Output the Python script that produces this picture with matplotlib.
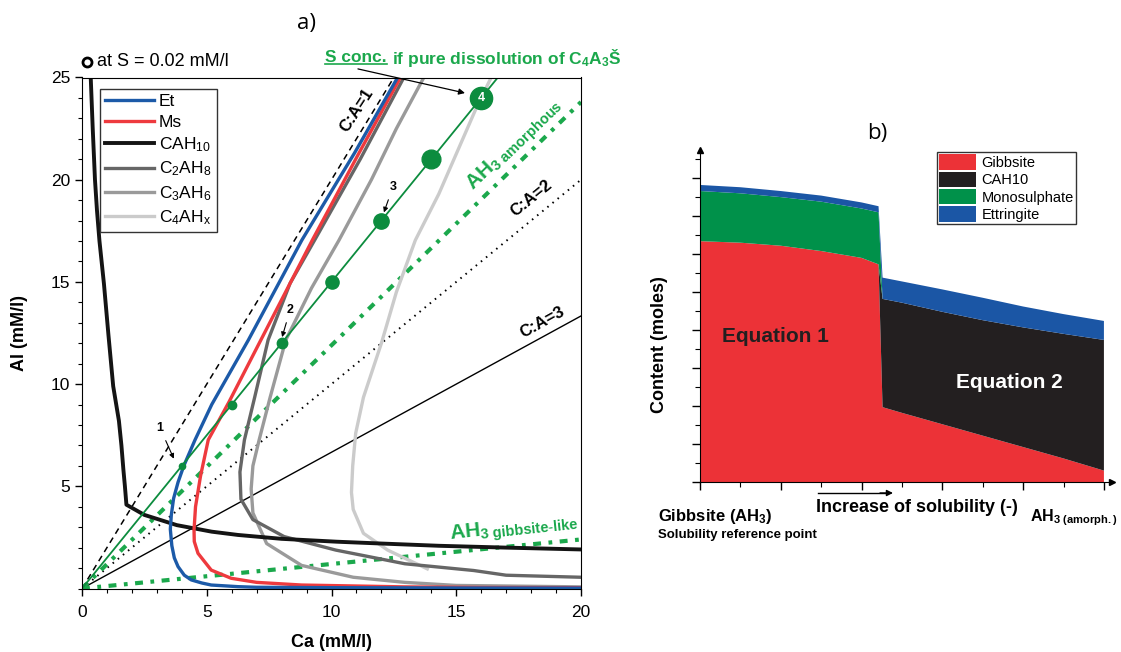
import numpy as np
import matplotlib.pyplot as plt
from matplotlib.ticker import MultipleLocator

plt.rcParams['font.family'] = ['Liberation Sans', 'DejaVu Sans']
plt.rcParams['mathtext.fontset'] = 'custom'
plt.rcParams['mathtext.rm'] = 'Liberation Sans'
plt.rcParams['mathtext.bf'] = 'Liberation Sans:bold'
plt.rcParams['mathtext.it'] = 'Liberation Sans:italic'

# ---------- panel a : Ca vs Al (mM/l) ----------
et_ca = [20.0, 15.0, 10.0, 7.0, 6.25, 5.18, 4.8, 4.38, 4.1, 3.85, 3.7, 3.6, 3.54, 3.58, 3.67, 3.85, 4.08, 4.53, 5.2, 6.67, 8.81, 10.92, 12.65]
et_al = [0.02, 0.025, 0.04, 0.06, 0.09, 0.17, 0.27, 0.42, 0.65, 1.07, 1.5, 2.1, 2.9, 3.6, 4.4, 5.2, 6.0, 7.27, 9.0, 12.16, 17.04, 21.3, 25.0]

ms_ca = [20.0, 16.0, 12.9, 8.8, 7.0, 5.98, 5.18, 4.65, 4.5, 4.49, 4.55, 4.75, 5.06, 5.88, 7.17, 8.34, 9.23, 11.1, 12.76]
ms_al = [0.04, 0.05, 0.08, 0.17, 0.3, 0.5, 0.9, 1.72, 2.3, 2.86, 4.0, 5.5, 7.27, 9.1, 12.16, 14.93, 17.04, 21.3, 25.0]

cah10_ca = [0.35, 0.43, 0.52, 0.6, 0.7, 0.88, 1.06, 1.25, 1.48, 1.58, 1.66, 1.72, 1.78, 2.5, 3.8, 5.2, 6.25, 8.0, 10.2, 12.0, 14.3, 17.0, 20.0]
cah10_al = [25.0, 22.5, 20.0, 18.5, 17.0, 14.9, 12.4, 9.9, 8.2, 7.0, 5.8, 5.0, 4.1, 3.6, 3.1, 2.78, 2.62, 2.43, 2.29, 2.2, 2.09, 2.0, 1.91]

c2ah8_ca = [20.0, 17.0, 15.7, 12.94, 10.17, 8.1, 6.85, 6.37, 6.33, 6.51, 6.92, 7.46, 8.34, 9.35, 11.15, 12.9]
c2ah8_al = [0.55, 0.65, 0.88, 1.21, 1.88, 2.54, 3.37, 4.37, 5.7, 7.27, 9.35, 12.16, 14.93, 17.1, 21.0, 25.0]

c3ah6_ca = [20.0, 15.0, 12.94, 10.87, 8.8, 7.4, 6.85, 6.78, 6.85, 7.1, 7.54, 8.17, 9.2, 10.3, 11.6, 12.6, 13.7]
c3ah6_al = [0.08, 0.15, 0.3, 0.55, 1.13, 2.2, 3.7, 4.87, 6.0, 7.27, 9.35, 12.16, 14.7, 17.04, 20.0, 22.5, 25.0]

c4ahx_ca = [13.84, 12.25, 11.28, 10.87, 10.8, 10.85, 10.97, 11.28, 12.0, 12.6, 13.36, 14.3, 15.8, 16.4]
c4ahx_al = [0.96, 1.88, 2.7, 3.87, 4.7, 6.0, 7.6, 9.35, 12.0, 14.5, 17.04, 19.3, 23.5, 25.0]

# C:A ratio lines (Al = slope * Ca)
ca_ratio_labels = ['C:A=1', 'C:A=2', 'C:A=3']
ca_ratio_slopes = [2.0, 1.0, 2.0 / 3.0]
ah3_amorph_slope = 1.19
ah3_gibbs_slope = 0.12

# S concentration points for pure dissolution of C4A3S
s_ca = [4, 6, 8, 10, 12, 14, 16]
s_al = [6, 9, 12, 15, 18, 21, 24]
s_labels = ['1', '', '2', '', '3', '', '4']

# ---------- panel b : phase contents ----------
b_x = [0, 1, 2, 3, 4, 4.42, 4.52, 5, 6, 7, 8, 9, 10]
gibbsite = [6.34, 6.30, 6.22, 6.08, 5.90, 5.73, 1.97, 1.82, 1.52, 1.22, 0.92, 0.62, 0.30]
cah10 = [0, 0, 0, 0, 0, 0, 2.85, 2.90, 2.96, 3.04, 3.15, 3.28, 3.44]
monosulphate = [1.32, 1.30, 1.28, 1.30, 1.30, 1.37, 0, 0, 0, 0, 0, 0, 0]
ettringite = [0.16, 0.16, 0.16, 0.16, 0.16, 0.16, 0.56, 0.56, 0.59, 0.59, 0.55, 0.52, 0.50]

W, H = 1121, 652
def fx(px):
    return px / W
def fy(py):
    return 1 - py / H

fig = plt.figure(figsize=(W / 100, H / 100), dpi=100)

green = '#0c8c3e'
green2 = '#1ba84c'

ax = fig.add_axes([fx(82), fy(588.5), 499 / W, 511 / H])
ax.set_xlim(0, 20)
ax.set_ylim(0, 25)

xs = np.array([0, 20.0])
ax.plot(xs, ca_ratio_slopes[0] * xs, color='k', lw=1.1, dashes=(4, 3))
ax.plot(xs, ca_ratio_slopes[1] * xs, color='k', lw=1.4, dashes=(0.8, 2.6))
ax.plot(xs, ca_ratio_slopes[2] * xs, color='k', lw=1.0)
ax.plot(xs, ah3_amorph_slope * xs, color=green2, lw=3.0, dashes=(1.9, 1.8, 0.9, 1.8))
ax.plot(xs, ah3_gibbs_slope * xs, color=green2, lw=3.0, dashes=(1.9, 1.8, 0.9, 1.8))

ax.plot(c4ahx_ca, c4ahx_al, color='#cbcbcb', lw=2.4, label=r'C$_4$AH$_\mathrm{x}$')
ax.plot(c3ah6_ca, c3ah6_al, color='#9a9a9a', lw=2.4, label=r'C$_3$AH$_6$')
ax.plot(c2ah8_ca, c2ah8_al, color='#666666', lw=2.4, label=r'C$_2$AH$_8$')
ax.plot(cah10_ca, cah10_al, color='#141414', lw=2.8, label=r'CAH$_{10}$')
ax.plot(ms_ca, ms_al, color='#ee3a3e', lw=2.4, label='Ms')
ax.plot(et_ca, et_al, color='#1c5aa8', lw=2.4, label='Et')

ax.plot([0, 25 / 1.5], [0, 25], color=green, lw=1.3)
dot_sizes = [4.5, 6, 7.5, 9.5, 11, 13.5, 16]
for cx, cy, ms in zip(s_ca, s_al, dot_sizes):
    ax.plot(cx, cy, 'o', color=green, ms=ms, mec=green)
ax.text(s_ca[-1], s_al[-1], s_labels[-1], color='white', fontsize=9, fontweight='bold',
        ha='center', va='center')

label_pos = {'1': ((3.13, 7.85), (3.68, 6.35)),
             '2': ((8.34, 13.63), (8.02, 12.3)),
             '3': ((12.46, 19.64), (12.1, 18.4))}
for lab in ['1', '2', '3']:
    (tx, ty), (hx, hy) = label_pos[lab]
    ax.annotate(lab, xy=(hx, hy), xytext=(tx, ty), fontsize=9, fontweight='bold',
                ha='center', va='center',
                arrowprops=dict(arrowstyle='-|>', color='k', lw=0.8, shrinkA=3, shrinkB=0,
                                mutation_scale=7))

ax.annotate('', xy=(15.35, 24.24), xytext=(11.06, 25.42), annotation_clip=False,
            arrowprops=dict(arrowstyle='-|>', color='k', lw=0.9, shrinkA=0, shrinkB=0,
                            mutation_scale=9))

ax.text(11.0, 23.4, ca_ratio_labels[0], rotation=57, fontsize=12, fontweight='bold',
        ha='center', va='center')
ax.text(18.0, 19.1, ca_ratio_labels[1], rotation=39, fontsize=12, fontweight='bold',
        ha='center', va='center')
ax.text(18.46, 13.0, ca_ratio_labels[2], rotation=29, fontsize=12, fontweight='bold',
        ha='center', va='center')
ax.text(17.35, 21.7, r'AH$_\mathbf{3\ amorphous}$', rotation=44, fontsize=15,
        fontweight='bold', color=green2, ha='center', va='center')
ax.text(17.31, 2.9, r'AH$_\mathbf{3\ gibbsite\text{-}like}$', rotation=6, fontsize=15,
        fontweight='bold', color=green2, ha='center', va='center')

ax.xaxis.set_major_locator(MultipleLocator(5))
ax.xaxis.set_minor_locator(MultipleLocator(1))
ax.set_yticks([5, 10, 15, 20, 25])
ax.yaxis.set_minor_locator(MultipleLocator(1))
ax.tick_params(which='major', direction='out', length=5, width=1, labelsize=12.5)
ax.tick_params(axis='x', which='major', pad=7)
ax.tick_params(which='minor', direction='out', length=3, width=0.8)
ax.set_xlabel('Ca (mM/l)', fontsize=13, fontweight='bold', labelpad=10)
ax.set_ylabel('Al (mM/l)', fontsize=13, fontweight='bold', labelpad=16)

h, l = ax.get_legend_handles_labels()
leg = ax.legend(h[::-1], l[::-1], loc='upper left', bbox_to_anchor=(0.036, 0.978),
                borderaxespad=0, fancybox=False, edgecolor='#333333', framealpha=1,
                fontsize=12.5, handlelength=2.8, handletextpad=0.3, labelspacing=0.32,
                borderpad=0.3)
leg.get_frame().set_linewidth(1.0)

fig.text(fx(306), fy(24), 'a)', fontsize=16, family=['Open Sans', 'DejaVu Sans'],
         ha='center', va='center')
ax.plot([fx(87)], [fy(62)], 'o', mfc='white', mec='k', mew=2, ms=6.5,
        transform=fig.transFigure, clip_on=False)
fig.text(fx(97), fy(62), 'at S = 0.02 mM/l', fontsize=13, va='center')

t1 = fig.text(fx(325), fy(58), 'S conc.', fontsize=12.5, fontweight='bold',
              color=green2, va='center')
fig.text(fx(392), fy(58), r'if pure dissolution of C$_\mathbf{4}$A$_\mathbf{3}$Š',
         fontsize=12.5, fontweight='bold', color=green2, va='center')
fig.canvas.draw()
bb = t1.get_window_extent().transformed(fig.transFigure.inverted())
fig.add_artist(plt.Line2D([bb.x0, bb.x1], [bb.y0 + 0.002, bb.y0 + 0.002],
                          color=green2, lw=1.2))

# ---------- panel b ----------
bx = fig.add_axes([fx(700), fy(482), 412 / W, 332 / H])
bx.stackplot(b_x, gibbsite, cah10, monosulphate, ettringite,
             colors=['#ec3237', '#231f20', '#00914a', '#1b56a5'], lw=0,
             labels=['Gibbsite', 'CAH10', 'Monosulphate', 'Ettringite'])
bx.set_xlim(0, 10.2)
bx.set_ylim(0, 8.74)
for s in ['top', 'right']:
    bx.spines[s].set_visible(False)
bx.xaxis.set_major_locator(MultipleLocator(2))
bx.xaxis.set_minor_locator(MultipleLocator(1))
bx.yaxis.set_major_locator(MultipleLocator(1))
bx.yaxis.set_minor_locator(MultipleLocator(0.5))
bx.tick_params(which='major', direction='out', length=6, width=1,
               labelbottom=False, labelleft=False)
bx.tick_params(which='minor', direction='out', length=3.5, width=0.8)
bx.plot(1, 0, '>k', ms=5, transform=bx.transAxes, clip_on=False)
bx.plot(0, 1, '^k', ms=5, transform=bx.transAxes, clip_on=False)

bx.text(1.86, 3.84, 'Equation 1', fontsize=15, fontweight='bold', color='#231f20',
        ha='center', va='center')
bx.text(7.65, 2.63, 'Equation 2', fontsize=15, fontweight='bold', color='white',
        ha='center', va='center')

bleg = bx.legend(loc='upper left', bbox_to_anchor=(fx(937), fy(152)),
                 bbox_transform=fig.transFigure, borderaxespad=0, fancybox=False,
                 edgecolor='#333333', framealpha=1, fontsize=10.5, handlelength=2.5,
                 handleheight=1.25, labelspacing=0.12, borderpad=0.15, handletextpad=0.4)
bleg.get_frame().set_linewidth(1.0)

fig.text(fx(877), fy(134), 'b)', fontsize=16, family=['Open Sans', 'DejaVu Sans'],
         ha='center', va='center')
fig.text(fx(660), fy(345), 'Content (moles)', rotation=90, fontsize=13,
         fontweight='bold', ha='center', va='center')
fig.text(fx(658), fy(517), r'Gibbsite (AH$_\mathbf{3}$)', fontsize=12, fontweight='bold',
         va='center')
fig.text(fx(658), fy(535), 'Solubility reference point', fontsize=9.5, fontweight='bold',
         va='center')
fig.text(fx(816), fy(508), 'Increase of solubility (-)', fontsize=13, fontweight='bold',
         va='center')
fig.add_artist(plt.Line2D([fx(818), fx(885)], [fy(493), fy(493)], color='k', lw=1))
bx.annotate('', xy=(fx(893), fy(493)), xytext=(fx(880), fy(493)), xycoords='figure fraction',
            arrowprops=dict(arrowstyle='-|>', color='k', lw=1, shrinkA=0, shrinkB=0,
                            mutation_scale=9))
fig.text(fx(1030), fy(518), r'AH$_\mathbf{3\ (amorph.)}$', fontsize=11.5,
         fontweight='bold', va='center')

fig.savefig('out.png', dpi=100)
